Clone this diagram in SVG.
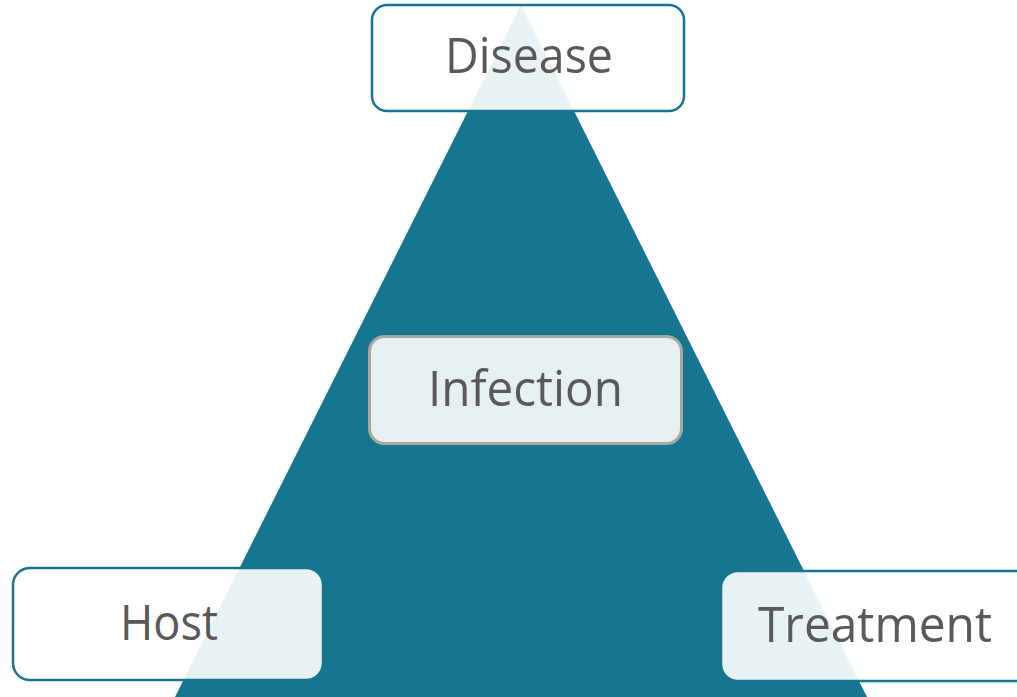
<svg xmlns="http://www.w3.org/2000/svg" width="1017" height="697" viewBox="0 0 1017 697">
<style>
.outer{fill:#ffffff;fill-opacity:0.9;stroke:#16768f;stroke-width:2.5}
.inner{fill:#e6eff2;stroke:#a8a8a2;stroke-width:3}
.lbl{font-family:"Open Sans","Noto Sans",sans-serif;font-size:50px;fill:#595959;text-anchor:middle}
</style>
<rect width="1017" height="697" fill="#ffffff"/>
<g id="triangle"><polygon points="521,5 171,705 871,705" fill="#16768f"/></g>
<g id="connectors"></g>
<g id="disease"><rect class="outer" x="372" y="5" width="312" height="106" rx="15"/><text class="lbl" x="529" y="73" textLength="168" lengthAdjust="spacingAndGlyphs">Disease</text></g>
<g id="infection"><rect class="inner" x="369.5" y="336.5" width="312" height="107" rx="15"/><text class="lbl" x="525.5" y="406" textLength="195" lengthAdjust="spacingAndGlyphs">Infection</text></g>
<g id="host"><rect class="outer" x="13" y="568" width="310" height="112" rx="17"/><text class="lbl" x="169" y="640" textLength="98" lengthAdjust="spacingAndGlyphs">Host</text></g>
<g id="treatment"><rect class="outer" x="721" y="571" width="320" height="110" rx="17"/><text class="lbl" x="875" y="642" textLength="234" lengthAdjust="spacingAndGlyphs">Treatment</text></g>
</svg>
